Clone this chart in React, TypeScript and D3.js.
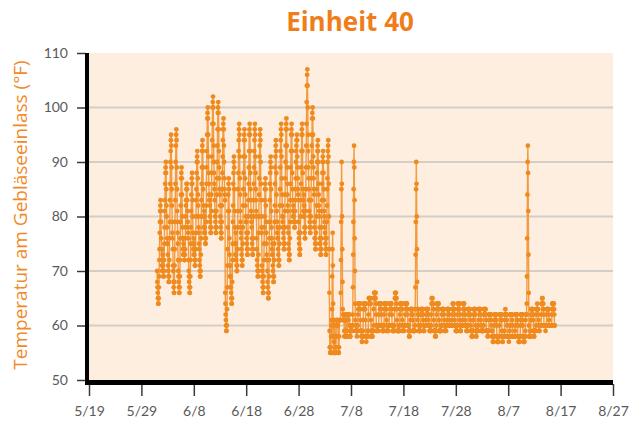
import React, { useEffect, useRef } from "react";
import * as d3 from "d3";

const YEAR = 2021;

// hourly inlet readings (°F), one row per day, first value at midnight
const juneReadings: number[][] = [
  [70,68,67,66,65,64,64,65,67,69,72,74,77,79,81,82,83,81,79,76,74,72,71,70],
  [74,73,72,71,70,69,69,70,72,75,78,81,83,86,88,89,90,88,85,82,80,78,76,75],
  [75,73,71,70,69,68,68,69,72,76,79,83,86,90,92,94,95,93,89,85,82,79,77,76],
  [74,71,70,68,67,66,66,68,71,74,79,83,86,90,93,95,96,94,89,85,81,79,77,75],
  [72,70,69,68,67,66,66,67,69,72,76,79,82,84,87,88,89,87,84,80,78,76,74,73],
  [76,75,74,73,73,72,72,73,74,76,78,80,82,83,85,86,86,85,83,81,79,78,77,76],
  [72,70,69,68,67,66,66,67,69,72,75,78,81,84,86,87,88,86,83,80,77,75,74,73],
  [76,75,74,73,72,71,71,72,74,77,80,83,85,88,90,91,92,90,87,84,82,80,78,77],
  [75,74,72,71,70,69,69,70,73,76,80,83,86,89,92,93,94,92,89,85,82,80,78,77],
  [81,80,78,77,76,75,75,76,79,82,86,89,92,95,98,99,100,98,95,91,88,86,84,83],
  [83,82,80,79,78,77,77,78,81,84,88,91,94,97,100,101,102,100,97,93,90,88,86,85],
  [83,81,80,79,78,77,77,78,81,84,87,90,93,96,99,100,101,99,96,92,89,87,85,84],
  [82,80,79,78,77,76,76,77,79,82,85,88,91,94,96,97,98,96,93,90,87,85,84,83],
  [66,64,62,61,60,59,59,60,63,67,71,74,78,81,84,86,87,85,81,76,73,71,69,67],
  [71,69,67,66,65,64,64,65,68,72,75,79,82,86,88,90,91,89,85,81,78,75,73,72],
  [77,75,73,72,71,70,70,71,74,78,81,85,88,92,94,96,97,95,91,87,84,81,79,78],
  [77,76,74,73,72,71,71,72,75,78,82,85,88,91,94,95,96,94,91,87,84,82,80,79],
  [79,77,76,75,74,73,73,74,77,80,83,86,89,92,95,96,97,95,92,88,85,83,81,80],
  [79,78,76,75,74,73,73,74,76,80,83,86,89,92,94,96,97,95,91,88,85,83,81,80],
  [76,74,72,71,70,69,69,70,73,77,80,84,87,91,93,95,96,94,90,86,83,80,78,77],
  [71,70,69,68,67,66,66,67,69,72,75,78,80,83,85,86,87,85,82,79,77,75,73,72],
  [72,70,68,67,66,65,65,66,69,72,76,79,83,86,88,90,91,89,85,81,78,76,74,73],
  [75,73,71,70,69,68,68,69,72,75,79,82,86,89,91,93,94,92,88,84,81,79,77,76],
  [78,76,74,73,72,71,71,72,75,78,82,85,89,92,94,96,97,95,91,87,84,82,80,79],
  [80,78,77,76,75,74,74,75,78,81,84,87,90,93,96,97,98,96,93,89,86,84,82,81],
  [78,77,75,74,73,72,72,73,76,79,83,86,89,92,95,96,97,95,92,88,85,83,81,80],
  [82,81,80,79,79,78,78,79,81,83,85,87,90,92,93,94,95,94,91,89,87,85,84,83],
  [79,77,76,75,74,73,73,74,77,80,83,86,89,92,95,96,97,95,92,88,85,83,81,80],
  [84,82,80,78,77,76,76,78,81,85,89,93,97,101,104,106,107,104,100,95,92,89,87,85],
  [83,81,80,79,78,77,77,78,80,83,87,90,93,95,98,99,100,98,95,91,89,87,85,84],
];

const julyReadings: number[][] = [
  [79,78,76,76,75,74,74,75,77,80,82,85,88,90,92,93,94,92,90,86,84,82,81,80],
  [78,76,75,75,74,73,73,74,76,78,81,83,86,88,90,91,92,90,88,85,83,81,80,79],
  [78,77,76,75,74,73,73,74,76,79,82,85,87,90,92,93,94,91,86,80,74,66,59,56],
  [56,55,55,55,56,58,61,60,58,63,69,74,77,71,64,58,55,55,57,60,61,61,58,55],
  [55,55,55,56,58,61,61,61,60,61,61,61,60,58,55,55,55,56,58,61,61,61,61,61],
  [61,66,72,79,85,90,86,80,74,68,63,61,61,62,62,61,61,59,58,58,59,61,62,62],
  [61,59,58,58,58,58,59,61,62,62,62,62,62,61,62,62,62,60,58,58,58,58,59,60],
  [59,59,59,60,60,59,59,60,62,67,73,79,85,90,93,89,83,76,70,64,61,60,59,59],
  [59,59,59,58,59,59,59,60,62,63,64,64,64,64,63,64,64,64,63,61,59,59,59,59],
  [58,58,57,57,58,58,58,59,61,63,64,64,63,64,64,64,64,63,64,61,58,58,57,58],
  [58,58,58,58,58,59,58,59,62,64,65,65,65,64,65,65,64,65,64,61,59,58,58,58],
  [59,59,59,58,59,59,59,60,63,65,66,66,65,66,66,65,65,66,64,62,60,59,59,59],
  [60,60,60,60,60,59,60,60,62,64,64,64,64,63,64,64,64,64,63,62,60,60,60,60],
  [59,59,59,59,59,60,59,60,62,63,64,64,64,64,64,63,64,64,63,61,59,59,59,60],
  [60,60,59,59,60,60,60,60,62,64,64,64,63,64,64,64,64,64,63,62,60,60,60,59],
  [59,59,59,59,59,59,59,60,63,65,66,66,65,65,66,65,65,64,63,61,59,59,59,59],
  [59,59,59,59,60,59,59,60,62,63,64,64,64,64,63,64,64,64,63,61,60,59,59,59],
  [60,60,60,59,60,60,60,60,62,64,64,64,64,63,64,64,64,63,63,62,60,60,60,60],
  [59,59,58,58,58,59,59,59,61,63,63,63,63,63,62,63,63,63,62,61,59,59,59,59],
  [59,59,59,59,59,60,63,67,73,79,85,90,86,80,74,68,63,61,62,63,63,62,60,59],
  [59,59,59,59,59,59,60,60,62,63,63,63,63,62,63,63,63,63,62,61,59,59,59,59],
  [60,60,60,60,60,60,60,61,62,63,63,63,63,63,63,63,62,63,62,61,60,60,60,60],
  [59,59,59,59,59,59,59,60,62,64,65,65,64,65,64,64,64,63,63,61,59,59,59,59],
  [59,59,58,58,58,59,59,60,62,63,64,64,64,64,63,64,64,64,63,61,59,59,59,59],
  [59,59,59,59,59,60,60,60,62,63,63,63,63,63,63,63,63,63,62,61,60,59,59,59],
  [60,60,60,60,59,60,60,60,61,63,63,63,63,63,62,63,63,63,62,61,60,60,60,60],
  [60,60,60,60,60,60,60,61,62,63,64,64,63,63,64,63,63,63,62,61,60,60,60,60],
  [59,59,59,59,59,59,60,60,62,63,64,64,64,63,63,64,64,63,62,61,59,59,59,59],
  [60,60,60,60,60,60,60,61,62,64,64,64,63,64,64,63,63,63,62,61,60,60,60,60],
  [60,59,59,59,59,59,60,60,62,63,63,63,63,63,63,63,63,62,62,61,60,59,59,59],
  [59,58,58,58,58,59,59,59,61,62,63,63,63,63,63,62,63,63,62,60,59,58,58,59],
];

// august stops on the evening of 8/15
const augustReadings: number[][] = [
  [59,59,59,59,59,59,59,60,61,63,63,63,63,62,63,63,63,63,62,61,60,59,59,59],
  [59,59,59,59,59,59,59,60,62,63,63,63,62,63,63,63,63,62,62,61,59,59,59,59],
  [59,59,58,58,59,59,59,59,61,62,62,62,62,62,62,62,62,62,61,60,59,59,59,58],
  [58,58,57,57,57,58,58,58,60,61,62,62,62,62,62,61,62,62,61,60,58,58,57,57],
  [57,57,57,57,58,58,58,58,60,62,62,62,62,61,62,62,62,62,61,59,58,58,57,57],
  [58,58,58,58,58,58,58,59,61,62,62,63,62,62,62,62,62,62,61,60,58,58,58,58],
  [58,58,58,57,58,58,58,59,60,62,62,62,62,62,62,62,62,62,61,60,58,58,58,58],
  [58,58,58,58,58,58,58,59,60,62,62,62,62,62,62,62,62,61,61,60,58,58,58,58],
  [57,57,57,57,58,58,58,58,60,61,62,62,62,62,62,62,62,62,61,60,58,58,57,57],
  [57,57,57,58,58,58,58,59,61,62,62,62,62,64,69,76,84,90,93,88,81,73,66,60],
  [58,58,58,58,58,58,59,59,61,62,63,63,63,63,63,63,62,63,62,61,59,58,58,58],
  [59,59,59,59,59,59,59,60,62,63,63,63,63,64,63,63,63,63,62,61,60,59,59,59],
  [60,60,60,60,60,60,60,60,62,64,64,64,65,65,64,64,64,63,63,62,60,60,60,60],
  [60,60,60,59,60,60,60,60,62,63,63,63,63,63,63,63,63,63,62,61,60,60,60,60],
  [60,60,60,60,60,60,60,60,62,63,64,64,64,63,64,64,63,64,63,62,60,60],
];

const xTickLabels = ["5/19", "5/29", "6/8", "6/18", "6/28", "7/8", "7/18", "7/28", "8/7", "8/17", "8/27"];
const yTickValues = [50, 60, 70, 80, 90, 100, 110];

const chartTitle = "Einheit 40";
const yAxisTitle = "Temperatur am Gebläseeinlass (°F)";

const App = () => {
  const svgRef = useRef<SVGSVGElement>(null);

  useEffect(() => {
    const w = 642;
    const h = 437;
    const left = 89;
    const right = 613;
    const top = 53;
    const bottom = 380;

    const svg = d3
      .select(svgRef.current)
      .attr("width", w)
      .attr("height", h)
      .style("position", "absolute")
      .style("left", "0px")
      .style("top", "0px")
      .style("background", "#fff");
    svg.selectAll("*").remove();

    // flatten the month tables into dated points
    const series = [
      { month: 5, days: juneReadings },
      { month: 6, days: julyReadings },
      { month: 7, days: augustReadings },
    ].flatMap(({ month, days }) =>
      days.flatMap((row, d) =>
        row.map((value, hr) => ({ date: new Date(YEAR, month, d + 1, hr), value }))
      )
    );

    const tickDates = xTickLabels.map((s) => {
      const [m, d] = s.split("/").map(Number);
      return new Date(YEAR, m - 1, d);
    });

    const xScale = d3
      .scaleTime()
      .domain([tickDates[0], tickDates[tickDates.length - 1]])
      .range([left, right]);
    const yScale = d3.scaleLinear().domain([50, 110]).range([bottom, top]);

    // plot background
    svg
      .append("rect")
      .attr("x", left)
      .attr("y", top)
      .attr("width", right - left)
      .attr("height", bottom - top)
      .attr("fill", "#fdeee0");

    // gridlines
    svg
      .selectAll(".grid")
      .data(yTickValues.filter((v) => v > 50 && v < 110))
      .join("line")
      .attr("x1", left)
      .attr("x2", right)
      .attr("y1", (d) => yScale(d))
      .attr("y2", (d) => yScale(d))
      .attr("stroke", "#d4cec7")
      .attr("stroke-width", 2);

    const line = d3
      .line<{ date: Date; value: number }>()
      .x((d) => xScale(d.date))
      .y((d) => yScale(d.value));

    svg
      .append("path")
      .datum(series)
      .attr("d", line)
      .attr("fill", "none")
      .attr("stroke", "#f39b3e")
      .attr("stroke-width", 1.4)
      .attr("stroke-linejoin", "round");

    svg
      .append("g")
      .selectAll("circle")
      .data(series)
      .join("circle")
      .attr("cx", (d) => xScale(d.date))
      .attr("cy", (d) => yScale(d.value))
      .attr("r", 2.4)
      .attr("fill", "#ef8a1e");

    // axes
    const yAxis = d3
      .axisLeft(yScale)
      .tickValues(yTickValues)
      .tickSize(9)
      .tickPadding(9)
      .tickFormat((d) => String(d));
    const gy = svg.append("g").attr("transform", `translate(${left - 3},0)`).call(yAxis);
    gy.select(".domain").remove();

    const xAxis = d3
      .axisBottom(xScale)
      .tickValues(tickDates)
      .tickSize(12)
      .tickPadding(10)
      .tickFormat((d, i) => xTickLabels[i]);
    const gx = svg.append("g").attr("transform", `translate(0,${bottom + 4})`).call(xAxis);
    gx.select(".domain").remove();

    [gx, gy].forEach((g) => {
      g.selectAll(".tick line").attr("stroke", "#3a3a3a").attr("stroke-width", 1.5);
      g.selectAll(".tick text")
        .attr("fill", "#5a5a5a")
        .style("font-family", "Lato, 'Open Sans', sans-serif")
        .style("font-size", "14px");
    });

    // thick black axis lines
    svg
      .append("line")
      .attr("x1", left - 2)
      .attr("x2", left - 2)
      .attr("y1", top)
      .attr("y2", bottom + 5)
      .attr("stroke", "#000")
      .attr("stroke-width", 4);
    svg
      .append("line")
      .attr("x1", left - 4)
      .attr("x2", right)
      .attr("y1", bottom + 2.5)
      .attr("y2", bottom + 2.5)
      .attr("stroke", "#000")
      .attr("stroke-width", 5);

    svg
      .append("text")
      .attr("x", 350)
      .attr("y", 31)
      .attr("text-anchor", "middle")
      .attr("fill", "#ef7d1a")
      .style("font-family", "'Open Sans', Lato, sans-serif")
      .style("font-weight", 700)
      .style("font-size", "26px")
      .text(chartTitle);

    svg
      .append("text")
      .attr("transform", "translate(22,215) rotate(-90)")
      .attr("text-anchor", "middle")
      .attr("dominant-baseline", "middle")
      .attr("fill", "#f08a2a")
      .style("font-family", "'Open Sans', Lato, sans-serif")
      .style("font-size", "19px")
      .text(yAxisTitle);
  }, []);

  return <svg ref={svgRef}></svg>;
};

export default App;
